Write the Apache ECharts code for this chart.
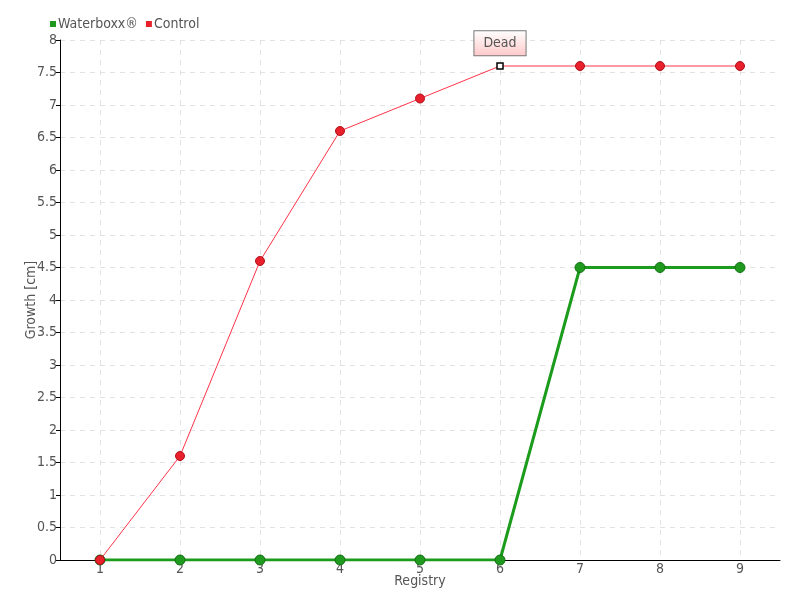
<!DOCTYPE html>
<html><head><meta charset="utf-8">
<script src="https://cdn.jsdelivr.net/npm/echarts@6/dist/echarts.min.js"></script>
<style>html,body{margin:0;padding:0;background:#fff}#c{width:800px;height:600px}</style>
</head><body><div id="c"></div>
<script>
const categories = ['1','2','3','4','5','6','7','8','9'];
const waterboxx = [0,0,0,0,0,0,4.5,4.5,4.5];
const control = [0,1.6,4.6,6.6,7.1,7.6,7.6,7.6,7.6];
const deadIndex = 5;
const deadLabel = 'Dead';

const FONT = 'DejaVu Sans Condensed';
const controlData = control.map((v,i)=> i===deadIndex ? {
  value: v, symbol: 'rect', symbolSize: 6,
  itemStyle: {color:'#fff', borderColor:'#000', borderWidth:1.5},
  label: {
    show: true, position: 'top', distance: 7, formatter: deadLabel,
    fontFamily: FONT, fontSize: 14, color: '#555',
    padding: [5,9,5,9],
    borderColor: '#777', borderWidth: 1,
    backgroundColor: {type:'linear',x:0,y:0,x2:0,y2:1,colorStops:[{offset:0,color:'#ffffff'},{offset:1,color:'#ffc8c8'}]}
  }
} : v);

const chart = echarts.init(document.getElementById('c'), null, {renderer:'canvas'});
chart.setOption({
  animation: false,
  textStyle: {fontFamily: FONT},
  legend: {
    left: 45, top: 12, icon: 'rect', itemWidth: 6, itemHeight: 6, itemGap: 8,
    itemStyle: {borderWidth: 0},
    textStyle: {fontFamily: FONT, fontSize: 14, color: '#555', padding:[0,0,0,-3]},
    data: ['Waterboxx®','Control']
  },
  grid: {left: 60, right: 20, top: 40, bottom: 40},
  xAxis: {
    type: 'category', data: categories, boundaryGap: true,
    name: 'Registry', nameLocation: 'middle', nameGap: 14, nameMoveOverlap: false,
    nameTextStyle: {fontFamily: FONT, fontSize: 14, color: '#555'},
    axisLine: {lineStyle: {color: '#000', width: 1}},
    axisTick: {show: false},
    axisLabel: {fontFamily: FONT, fontSize: 14, color: '#555', margin: 2},
    splitLine: {show: true, alignWithLabel: true, lineStyle: {color: '#e2e2e2', type: [5,5], width: 1}}
  },
  yAxis: {
    type: 'value', min: 0, max: 8, interval: 0.5,
    name: 'Growth [cm]', nameLocation: 'middle', nameGap: 22, nameMoveOverlap: false,
    nameTextStyle: {fontFamily: FONT, fontSize: 14, color: '#555'},
    axisLine: {show: true, lineStyle: {color: '#000', width: 1}},
    axisTick: {show: true, length: 4, lineStyle: {color: '#000'}},
    axisLabel: {fontFamily: FONT, fontSize: 14, color: '#555', margin: 3},
    splitLine: {show: true, lineStyle: {color: '#e2e2e2', type: [5,5], width: 1}}
  },
  series: [
    {
      name: 'Waterboxx®', type: 'line', data: waterboxx, z: 2,
      symbol: 'circle', symbolSize: 10,
      lineStyle: {color: '#1c9c1c', width: 3},
      itemStyle: {color: '#1f9a1f', borderColor: '#137013', borderWidth: 1}
    },
    {
      name: 'Control', type: 'line', data: controlData, z: 3,
      symbol: 'circle', symbolSize: 9,
      lineStyle: {color: '#ff3348', width: 1},
      itemStyle: {color: '#e8202c', borderColor: '#b0101a', borderWidth: 1}
    }
  ]
});
</script></body></html>
